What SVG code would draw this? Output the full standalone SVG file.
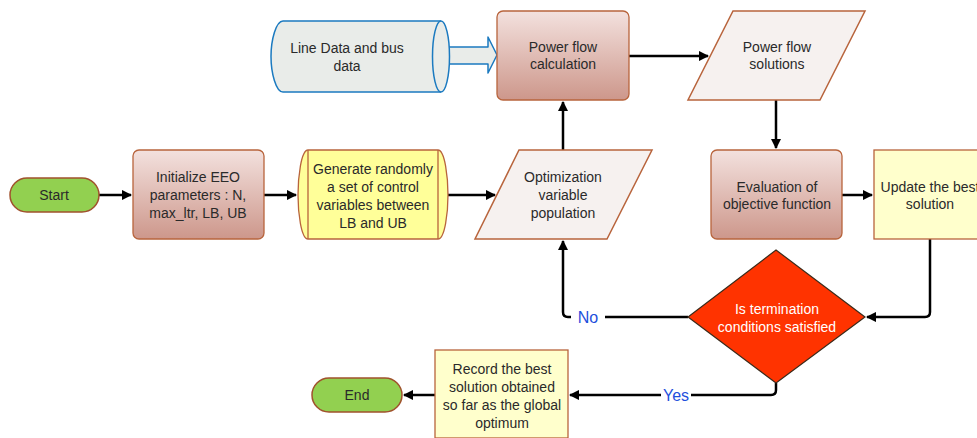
<svg xmlns="http://www.w3.org/2000/svg" width="977" height="438" viewBox="0 0 977 438">
  <defs>
    <linearGradient id="boxGrad" x1="0" y1="0" x2="0" y2="1">
      <stop offset="0" stop-color="#f3e1de"/>
      <stop offset="1" stop-color="#cd978b"/>
    </linearGradient>
    <marker id="arrow" viewBox="0 0 10 10" refX="9" refY="5" markerWidth="4.2" markerHeight="4.2" orient="auto" markerUnits="strokeWidth">
      <path d="M0,0 L10,5 L0,10 Z" fill="#000"/>
    </marker>
    <style>
      .lbl { font-family: "Liberation Sans", Arial, sans-serif; font-size: 14px; fill: #2a2a2a; text-anchor: middle; }
      .box { fill: url(#boxGrad); stroke: #b8643c; stroke-width: 1.3; }
      .para { fill: #f6f1ef; stroke: #b8643c; stroke-width: 1.5; }
      .note { fill: #ffffcc; stroke: #b8643c; stroke-width: 1.3; }
      .pill { fill: #92d050; stroke: #a0522d; stroke-width: 1.5; }
      .conn { fill: none; stroke: #000; stroke-width: 2.5; stroke-linejoin: round; }
      .tag { font-family: "Liberation Sans", Arial, sans-serif; font-size: 16px; fill: #1d4fdc; text-anchor: middle; }
    </style>
  </defs>

  <!-- connectors -->
  <g id="connectors">
    <path class="conn" d="M99,195 H131" marker-end="url(#arrow)"/>
    <path class="conn" d="M264,195 H296" marker-end="url(#arrow)"/>
    <path class="conn" d="M448,195 H495" marker-end="url(#arrow)"/>
    <path class="conn" d="M563,150 V102" marker-end="url(#arrow)"/>
    <path class="conn" d="M629,56 H708" marker-end="url(#arrow)"/>
    <path class="conn" d="M776,100 V148" marker-end="url(#arrow)"/>
    <path class="conn" d="M842,195 H872" marker-end="url(#arrow)"/>
    <path class="conn" d="M930,239 V312 Q930,317 925,317 H867" marker-end="url(#arrow)"/>
    <path class="conn" d="M688,317 H568 Q563,317 563,312 V241" marker-end="url(#arrow)"/>
    <path class="conn" d="M776,383 V390 Q776,395 771,395 H570" marker-end="url(#arrow)"/>
    <path class="conn" d="M435,395 H404" marker-end="url(#arrow)"/>
    <!-- block arrow from the data store -->
    <path d="M432,47 H488 V37 L497,55 L488,73 V64 H432" fill="#e9ece9" stroke="#1b7ac0" stroke-width="1.5" stroke-linejoin="round"/>
    <rect x="571" y="308" width="34" height="18" fill="#fff"/>
    <text class="tag" x="588" y="323">No</text>
    <rect x="661" y="386" width="30" height="18" fill="#fff"/>
    <text class="tag" x="676" y="401">Yes</text>
  </g>

  <g id="start">
    <rect class="pill" x="10" y="178" width="89" height="34" rx="17"/>
    <text class="lbl" x="54" y="200">Start</text>
  </g>

  <g id="init">
    <rect class="box" x="133" y="150" width="131" height="89" rx="6"/>
    <text class="lbl" x="198" y="182">Initialize EEO</text>
    <text class="lbl" x="198" y="200">parameters : N,</text>
    <text class="lbl" x="198" y="218">max_ltr, LB, UB</text>
  </g>

  <g id="generate">
    <path d="M308,150 H438 C445,150 448,178 448,195 C448,212 445,239 438,239 H308 C301,239 298,212 298,195 C298,178 301,150 308,150 Z" fill="#ffff99" stroke="#b8643c" stroke-width="1.3"/>
    <path d="M308,150 V239 M438,150 V239" stroke="#b8643c" stroke-width="1.3"/>
    <text class="lbl" x="373" y="174">Generate randomly</text>
    <text class="lbl" x="373" y="192">a set of control</text>
    <text class="lbl" x="373" y="210">variables between</text>
    <text class="lbl" x="373" y="228">LB and UB</text>
  </g>

  <g id="linedata">
    <path d="M441,21 H283 C276,21 271,40 271,56.5 C271,73 276,92 283,92 H441" fill="#e9ece9" stroke="#1b7ac0" stroke-width="1.5"/>
    <ellipse cx="441" cy="56.5" rx="8.5" ry="35.5" fill="#e9ece9" stroke="#1b7ac0" stroke-width="1.5"/>
    <text class="lbl" x="347" y="53">Line Data and bus</text>
    <text class="lbl" x="347" y="71">data</text>
  </g>

  <g id="optimization">
    <polygon class="para" points="519,150 652,150 607,239 475,239"/>
    <text class="lbl" x="563" y="182">Optimization</text>
    <text class="lbl" x="563" y="200">variable</text>
    <text class="lbl" x="563" y="218">population</text>
  </g>

  <g id="powerflow">
    <rect class="box" x="497" y="11" width="132" height="89" rx="6"/>
    <text class="lbl" x="563" y="52">Power flow</text>
    <text class="lbl" x="563" y="69">calculation</text>
  </g>

  <g id="solutions">
    <polygon class="para" points="733,11 865,11 820,100 688,100"/>
    <text class="lbl" x="777" y="52">Power flow</text>
    <text class="lbl" x="777" y="69">solutions</text>
  </g>

  <g id="evaluation">
    <rect class="box" x="711" y="150" width="131" height="89" rx="6"/>
    <text class="lbl" x="777" y="192">Evaluation of</text>
    <text class="lbl" x="777" y="209">objective function</text>
  </g>

  <g id="update">
    <rect class="note" x="874" y="150" width="112" height="89"/>
    <text class="lbl" x="930" y="192">Update the best</text>
    <text class="lbl" x="930" y="209">solution</text>
  </g>

  <g id="decision">
    <polygon points="776,250 865,317 776,383 688,317" fill="#ff3300" stroke="#3a2a1a" stroke-width="1.2"/>
    <text class="lbl" x="777" y="314" style="fill:#fff">Is termination</text>
    <text class="lbl" x="777" y="332" style="fill:#fff">conditions satisfied</text>
  </g>

  <g id="record">
    <rect class="note" x="435" y="350" width="133" height="88"/>
    <text class="lbl" x="502" y="374">Record the best</text>
    <text class="lbl" x="502" y="392">solution obtained</text>
    <text class="lbl" x="502" y="410">so far as the global</text>
    <text class="lbl" x="502" y="428">optimum</text>
  </g>

  <g id="end">
    <rect class="pill" x="312" y="378" width="90" height="34" rx="17"/>
    <text class="lbl" x="357" y="400">End</text>
  </g>
</svg>
